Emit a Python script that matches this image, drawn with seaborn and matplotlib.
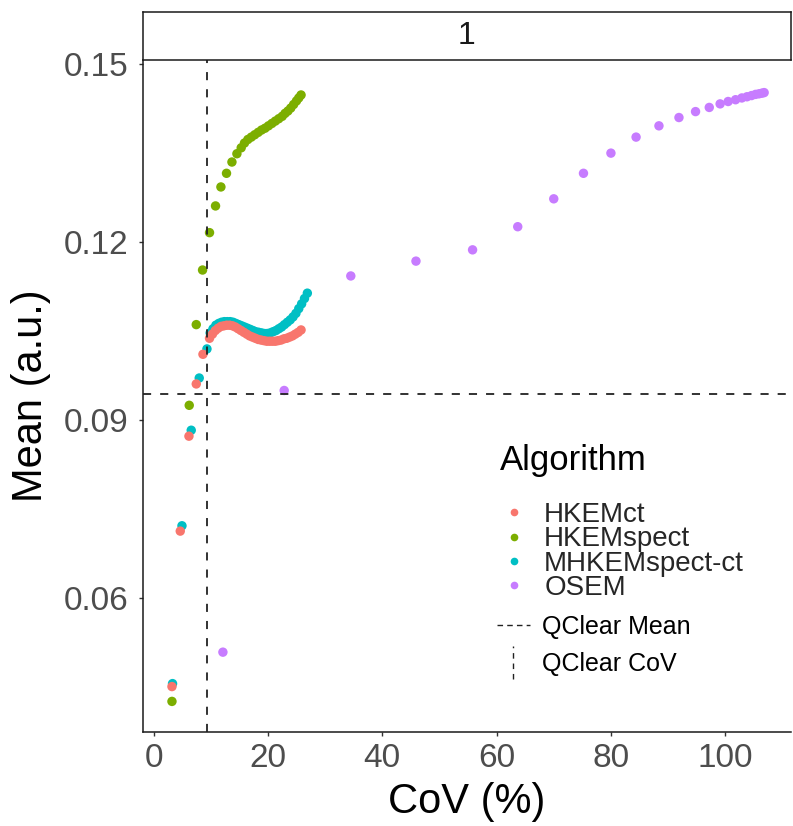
import matplotlib
matplotlib.use("Agg")
import numpy as np
import pandas as pd
import matplotlib.pyplot as plt
import seaborn as sns
from matplotlib.lines import Line2D
from matplotlib.legend_handler import HandlerBase

# ---------------- data ----------------
algorithms = ["HKEMct", "HKEMspect", "MHKEMspect-ct", "OSEM"]
colors = ["#F8766D", "#7CAE00", "#00BFC4", "#C77CFF"]

hkemct_cov = [3.22, 4.67, 6.19, 7.47, 8.64, 9.79, 10.3, 10.8, 11.3, 11.8, 12.3, 12.8,
              13.3, 13.8, 14.3, 14.8, 15.3, 15.8, 16.3, 16.8, 17.3, 17.8, 18.3, 18.8,
              19.3, 19.8, 20.3, 20.8, 21.3, 21.8, 22.3, 22.8, 23.3, 23.8, 24.3, 24.8,
              25.3, 25.8]
hkemct_mean = [0.0450, 0.0712, 0.0872, 0.0960, 0.1010, 0.1037, 0.1044, 0.1050, 0.1054,
               0.1057, 0.1058, 0.1059, 0.1059, 0.1058, 0.1056, 0.1053, 0.1050, 0.1047,
               0.1044, 0.1041, 0.1039, 0.1037, 0.1035, 0.1034, 0.1033, 0.1032, 0.1032,
               0.1032, 0.1032, 0.1033, 0.1034, 0.1036, 0.1037, 0.1039, 0.1041, 0.1044,
               0.1047, 0.1051]

hkemspect_cov = [3.22, 6.24, 7.47, 8.57, 9.79, 10.84, 11.78, 12.76, 13.71, 14.58, 15.33,
                 15.9, 16.5, 17.1, 17.7, 18.3, 18.9, 19.5, 20.1, 20.7, 21.3, 21.9, 22.5,
                 23.0, 23.5, 24.0, 24.5, 25.0, 25.4, 25.8]
hkemspect_mean = [0.0425, 0.0924, 0.1060, 0.1152, 0.1215, 0.1260, 0.1292, 0.1315, 0.1334,
                  0.1348, 0.1358, 0.1366, 0.1372, 0.1376, 0.1380, 0.1384, 0.1388, 0.1391,
                  0.1395, 0.1399, 0.1403, 0.1407, 0.1411, 0.1416, 0.1420, 0.1425, 0.1431,
                  0.1437, 0.1442, 0.1447]

mhkem_cov = [3.32, 4.97, 6.59, 7.99, 9.34, 9.9, 10.4, 10.9, 11.4, 11.9, 12.4, 12.9, 13.4,
             13.9, 14.4, 14.9, 15.4, 15.9, 16.4, 16.9, 17.4, 17.9, 18.4, 18.9, 19.4, 19.9,
             20.4, 20.9, 21.4, 21.9, 22.4, 22.9, 23.4, 23.9, 24.4, 24.9, 25.4, 25.9, 26.4,
             26.9]
mhkem_mean = [0.0455, 0.0721, 0.0882, 0.0970, 0.1019, 0.1046, 0.1053, 0.1059, 0.1062,
              0.1064, 0.1065, 0.1065, 0.1065, 0.1064, 0.1062, 0.1060, 0.1058, 0.1056,
              0.1054, 0.1052, 0.1050, 0.1048, 0.1047, 0.1046, 0.1045, 0.1045, 0.1046,
              0.1048, 0.1050, 0.1053, 0.1056, 0.1060, 0.1064, 0.1068, 0.1073, 0.1079,
              0.1087, 0.1095, 0.1104, 0.1113]

osem_cov = [12.13, 22.85, 34.5, 45.9, 55.8, 63.7, 70.0, 75.2, 80.0, 84.4, 88.4, 91.9,
            94.8, 97.2, 99.1, 100.5, 101.8, 102.9, 103.8, 104.6, 105.3, 105.9, 106.4, 106.8]
osem_mean = [0.0508, 0.0949, 0.1142, 0.1167, 0.1186, 0.1225, 0.1272, 0.1315, 0.1349,
             0.1376, 0.1395, 0.1409, 0.1419, 0.1426, 0.1432, 0.1436, 0.1439, 0.1442,
             0.1444, 0.1446, 0.1448, 0.1449, 0.1450, 0.1451]

qclear_mean = 0.09425
qclear_cov = 9.33

x_ticks = [0, 20, 40, 60, 80, 100]
y_ticks = [0.06, 0.09, 0.12, 0.15]
y_tick_labels = ["0.06", "0.09", "0.12", "0.15"]
facet_label = "1"

# drawing order (later drawn on top)
df = pd.concat([
    pd.DataFrame({"CoV": osem_cov, "Mean": osem_mean, "Algorithm": "OSEM"}),
    pd.DataFrame({"CoV": hkemspect_cov, "Mean": hkemspect_mean, "Algorithm": "HKEMspect"}),
    pd.DataFrame({"CoV": mhkem_cov, "Mean": mhkem_mean, "Algorithm": "MHKEMspect-ct"}),
    pd.DataFrame({"CoV": hkemct_cov, "Mean": hkemct_mean, "Algorithm": "HKEMct"}),
], ignore_index=True)

# ---------------- style ----------------
sns.set_theme(style="white")
plt.rcParams["font.family"] = ["Liberation Sans", "DejaVu Sans"]

fig = plt.figure(figsize=(7.93, 8.26), dpi=100)
ax = fig.add_axes([0.1803, 0.1142, 0.8172, 0.8132])
strip = fig.add_axes([0.1803, 0.9274, 0.8172, 0.0581])

palette = dict(zip(algorithms, colors))
sns.scatterplot(data=df, x="CoV", y="Mean", hue="Algorithm", hue_order=algorithms,
                palette=palette, s=46, linewidth=0, ax=ax, legend=False, zorder=3)

line_col = "#222222"
ax.axhline(qclear_mean, color=line_col, lw=1.3, ls=(0, (4.5, 5)), zorder=4)
ax.axvline(qclear_cov, color=line_col, lw=1.3, ls=(0, (4.5, 5)), zorder=4)

ax.set_xlim(-1.85, 111.5)
ax.set_ylim(0.0374, 0.1506)
ax.set_xticks(x_ticks)
ax.set_xticklabels([str(t) for t in x_ticks])
ax.set_yticks(y_ticks)
ax.set_yticklabels(y_tick_labels)

for s in ["top", "right"]:
    ax.spines[s].set_visible(False)
for s in ["left", "bottom"]:
    ax.spines[s].set_color("#1a1a1a")
    ax.spines[s].set_linewidth(1.1)
ax.tick_params(bottom=True, left=True, direction="out", length=3.1, width=1.0,
               color="#333333", labelsize=24, labelcolor="#4D4D4D")
ax.tick_params(axis="y", pad=7.5)
ax.tick_params(axis="x", pad=5)
ax.set_xlabel("CoV (%)", fontsize=30, color="black", labelpad=6)
ax.set_ylabel("Mean (a.u.)", fontsize=30, color="black", labelpad=9)

# facet strip
strip.set_xticks([])
strip.set_yticks([])
strip.set_facecolor("white")
for s in strip.spines.values():
    s.set_visible(True)
    s.set_color("#1a1a1a")
    s.set_linewidth(1.1)
strip.text(0.5, 0.5, facet_label, ha="center", va="center", fontsize=23,
           color="#1A1A1A", transform=strip.transAxes)

# ---------------- legends ----------------
class HandlerVLine(HandlerBase):
    def create_artists(self, legend, orig_handle, xdescent, ydescent, width, height,
                       fontsize, trans):
        xc = width / 2 - xdescent
        ln = Line2D([xc, xc], [-ydescent - 0.45 * height, -ydescent + 1.45 * height],
                    color=orig_handle.get_color(), lw=orig_handle.get_linewidth(),
                    ls=(0, (4, 3.5)))
        ln.set_transform(trans)
        return [ln]

fig.text(500 / 793, 1 - 470 / 826, "Algorithm", fontsize=25, color="black",
         ha="left", va="baseline")

alg_handles = [Line2D([], [], marker="o", ls="", color=c, markersize=5.5,
                      markeredgewidth=0) for c in colors]
leg1 = fig.legend(alg_handles, algorithms, loc="upper left",
                  bbox_to_anchor=(497 / 793, 1 - 502 / 826), frameon=False,
                  fontsize=20, handlelength=1.25, handletextpad=0.45,
                  labelspacing=-0.06, borderpad=0, borderaxespad=0)

q_mean_handle = Line2D([], [], color=line_col, lw=1.0, ls=(0, (4, 3)))
q_cov_handle = Line2D([], [], color=line_col, lw=1.0)
leg2 = fig.legend([q_mean_handle, q_cov_handle], ["QClear Mean", "QClear CoV"],
                  loc="upper left", bbox_to_anchor=(497 / 793, 1 - 615 / 826),
                  frameon=False, fontsize=18, handlelength=1.3, handletextpad=0.5,
                  labelspacing=0.53, borderpad=0, borderaxespad=0,
                  handler_map={q_cov_handle: HandlerVLine()})
for t in leg2.get_texts():
    t.set_color("black")

fig.savefig("out.png", dpi=100)
